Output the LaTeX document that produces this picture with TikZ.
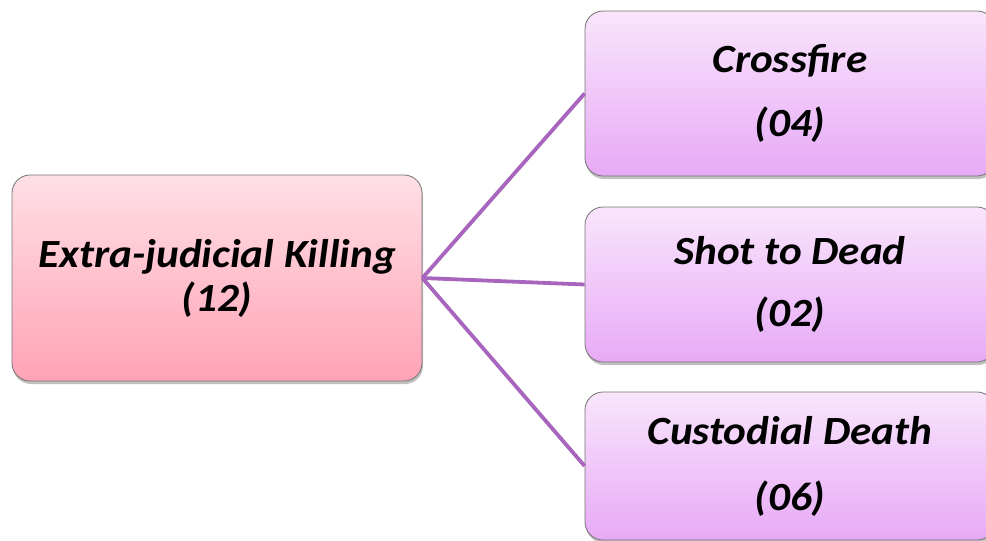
\documentclass[tikz,border=0pt]{standalone}
\usepackage{fontspec}
\setmainfont{Carlito}[FakeStretch=1.08]
\usetikzlibrary{shadows}
\definecolor{linkpurple}{HTML}{A865BE}
\definecolor{roottop}{HTML}{FFDFE6}
\definecolor{rootbottom}{HTML}{FFA3B6}
\definecolor{leaftop}{HTML}{F9E5FC}
\definecolor{leafbottom}{HTML}{E7AAF6}
\tikzset{
  catbox/.style={draw=black!55, line width=0.8pt, rounded corners=18pt,
    align=center, inner sep=0pt, minimum width=410pt,
    font=\fontsize{40}{44}\selectfont\bfseries\itshape,
    drop shadow={shadow xshift=1pt, shadow yshift=-3pt, opacity=0.35, fill=black!70}},
  rootbox/.style={catbox, top color=roottop, bottom color=rootbottom},
  leafbox/.style={catbox, top color=leaftop, bottom color=leafbottom},
  link/.style={draw=linkpurple, line width=3.8pt},
}
\begin{document}
\begin{tikzpicture}[x=1pt,y=-1pt]
  \useasboundingbox (0,0) rectangle (986,541);
  \clip (0,0) rectangle (986,541);
  \draw
    (217,278) node[rootbox, minimum height=206pt] (killing) {Extra-judicial Killing\\(12)}
    (790,93.5) node[leafbox, minimum height=165pt] (crossfire) {Crossfire\\[20pt](04)}
    (790,284.5) node[leafbox, minimum height=155pt] (shot) {Shot to Dead\\[18pt](02)}
    (790,466) node[leafbox, minimum height=148pt] (custodial) {Custodial Death\\[22pt](06)};
  \begin{scope}[link]
    \draw (killing.east) to (crossfire.west);
    \draw (killing.east) to (shot.west);
    \draw (killing.east) to (custodial.west);
  \end{scope}
\end{tikzpicture}
\end{document}
